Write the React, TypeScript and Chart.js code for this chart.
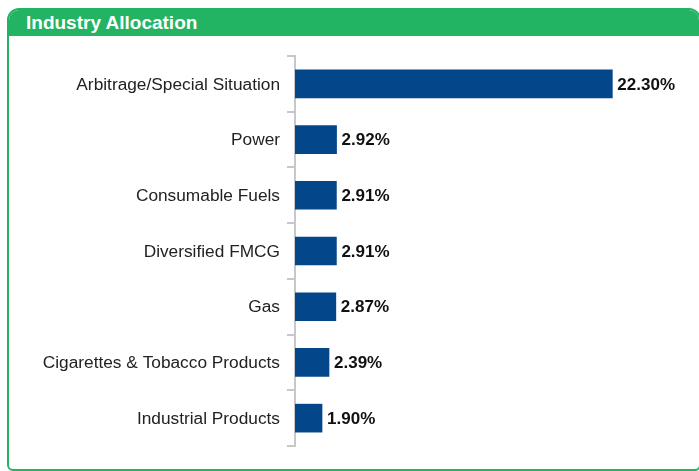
import React, { useEffect, useRef } from "react";
import { Chart, registerables } from "chart.js";

Chart.register(...registerables);

const categories = [
  "Arbitrage/Special Situation",
  "Power",
  "Consumable Fuels",
  "Diversified FMCG",
  "Gas",
  "Cigarettes & Tobacco Products",
  "Industrial Products",
];
const values = [22.3, 2.92, 2.91, 2.91, 2.87, 2.39, 1.9];
const valueLabels = ["22.30%", "2.92%", "2.91%", "2.91%", "2.87%", "2.39%", "1.90%"];

const GREEN = "#22b462";
const BAR = "#03468a";
const FONT = "'Liberation Sans', Arial, sans-serif";

export default function App() {
  const ref = useRef<HTMLCanvasElement | null>(null);

  useEffect(() => {
    const canvas = ref.current!;
    const labelPlugin = {
      id: "valueLabels",
      afterDatasetsDraw(chart: any) {
        const ctx = chart.ctx;
        const meta = chart.getDatasetMeta(0);
        ctx.save();
        ctx.font = `bold 17px ${FONT}`;
        ctx.fillStyle = "#111";
        ctx.textAlign = "left";
        ctx.textBaseline = "middle";
        meta.data.forEach((bar: any, i: number) => {
          ctx.fillText(valueLabels[i], bar.x + 5, bar.y + 1);
        });
        ctx.restore();
      },
    };
    const chart = new Chart(canvas, {
      type: "bar",
      data: {
        labels: categories,
        datasets: [
          {
            data: values,
            backgroundColor: BAR,
            borderWidth: 0,
            barThickness: 28,
          },
        ],
      },
      options: {
        indexAxis: "y",
        responsive: false,
        animation: false,
        layout: { padding: { top: 20, bottom: 20, left: 0, right: 34 } },
        plugins: { legend: { display: false }, tooltip: { enabled: false } },
        scales: {
          x: { display: false, min: 0, max: 26 },
          y: {
            afterFit: (scale: any) => {
              scale.width = 295;
            },
            grid: {
              drawOnChartArea: false,
              drawTicks: true,
              tickLength: 8,
              color: "#c8c8c8",
              tickColor: "#c8c8c8",
              lineWidth: 2,
            },
            border: { display: true, color: "#c8c8c8", width: 2 },
            ticks: {
              padding: 7,
              labelOffset: 1,
              color: "#222",
              font: { family: FONT, size: 17.3 },
            },
          },
        },
      },
      plugins: [labelPlugin],
    });
    return () => chart.destroy();
  }, []);

  return (
    <div
      style={{
        position: "fixed",
        left: 0,
        top: 0,
        width: 699,
        height: 471,
        overflow: "hidden",
        background: "#fff",
        fontFamily: FONT,
      }}
    >
      <div
        style={{
          position: "absolute",
          left: 7,
          top: 8,
          width: 694,
          height: 463,
          boxSizing: "border-box",
          border: `2px solid ${GREEN}`,
          borderRadius: "12px 12px 6px 6px",
          overflow: "hidden",
        }}
      >
        <div
          style={{
            height: 26,
            background: GREEN,
            color: "#fff",
            fontWeight: "bold",
            fontSize: 19,
            lineHeight: "26px",
            paddingLeft: 17,
            whiteSpace: "nowrap",
          }}
        >
          Industry Allocation
        </div>
      </div>
      <canvas
        ref={ref}
        width={699}
        height={430}
        style={{ position: "absolute", left: 0, top: 36, width: 699, height: 430 }}
      />
    </div>
  );
}
